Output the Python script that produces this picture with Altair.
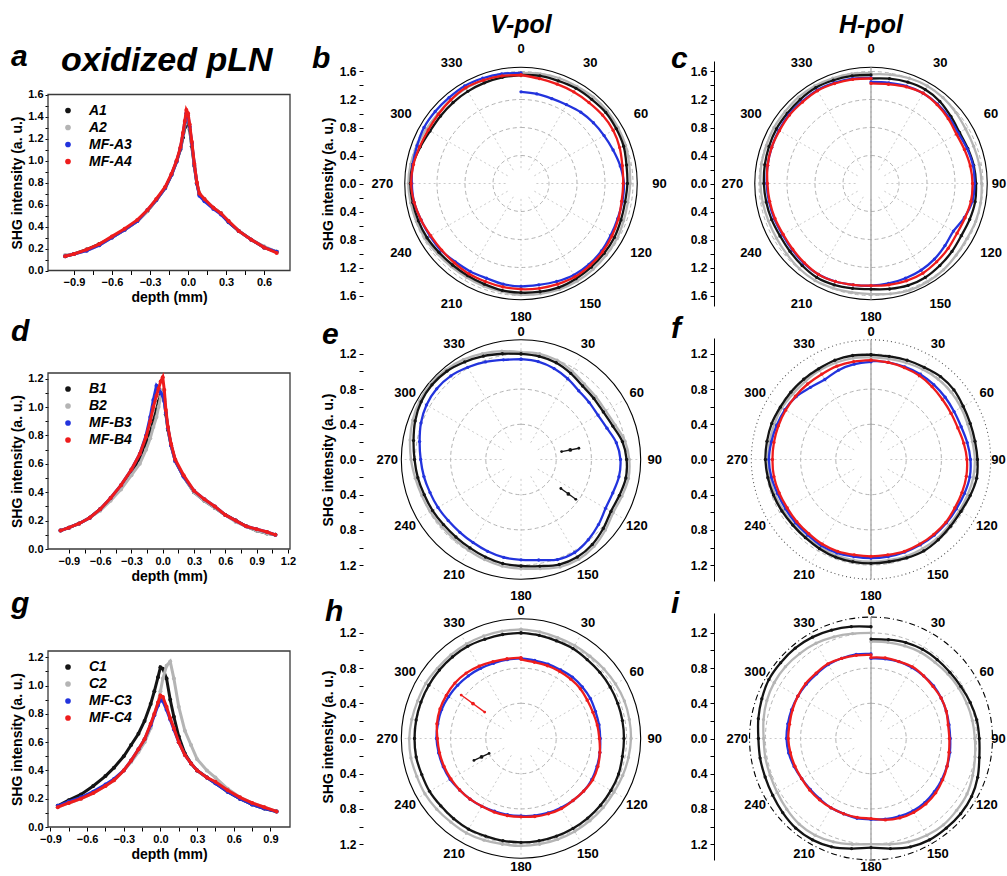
import math
import altair as alt
import pandas as pd

FONT = "Liberation Sans"
BLACK = "#141414"
GRAY = "#b4b4b4"
BLUE = "#2233dd"
RED = "#ee1c1c"
COLORS = [BLACK, GRAY, BLUE, RED]

# ---------------- depth profiles (a, d, g) ----------------
a_names = ["A1", "A2", "MF-A3", "MF-A4"]
a_depth = [-0.97, -0.9, -0.8, -0.7, -0.6, -0.5, -0.4, -0.32, -0.25, -0.18, -0.13, -0.09, -0.06, -0.04, -0.025,
           -0.013, 0.0, 0.013, 0.03, 0.05, 0.07, 0.09, 0.13, 0.2, 0.26, 0.32, 0.4, 0.5, 0.6, 0.7]
a_A1 = [0.13, 0.15, 0.19, 0.24, 0.30, 0.37, 0.45, 0.54, 0.64, 0.75, 0.87, 0.99, 1.10, 1.21, 1.30,
        1.35, 1.34, 1.28, 1.13, 0.95, 0.79, 0.69, 0.64, 0.57, 0.52, 0.44, 0.36, 0.28, 0.21, 0.17]
a_A2 = [0.14, 0.15, 0.18, 0.23, 0.30, 0.37, 0.45, 0.54, 0.64, 0.75, 0.87, 0.99, 1.11, 1.23, 1.33,
        1.40, 1.39, 1.30, 1.15, 0.96, 0.80, 0.70, 0.65, 0.57, 0.52, 0.45, 0.36, 0.28, 0.22, 0.17]
a_A3 = [0.13, 0.15, 0.18, 0.23, 0.30, 0.37, 0.45, 0.55, 0.64, 0.75, 0.87, 0.99, 1.11, 1.24, 1.35,
        1.43, 1.41, 1.31, 1.16, 0.96, 0.79, 0.68, 0.63, 0.56, 0.51, 0.44, 0.36, 0.28, 0.21, 0.17]
a_A4 = [0.13, 0.15, 0.19, 0.24, 0.31, 0.38, 0.46, 0.55, 0.65, 0.76, 0.88, 1.00, 1.12, 1.25, 1.36,
        1.46, 1.43, 1.33, 1.17, 0.97, 0.80, 0.70, 0.65, 0.57, 0.52, 0.45, 0.36, 0.28, 0.21, 0.16]

d_names = ["B1", "B2", "MF-B3", "MF-B4"]
d_depth = [-0.98, -0.9, -0.8, -0.7, -0.6, -0.5, -0.4, -0.3, -0.22, -0.16, -0.12, -0.09, -0.06, -0.04, -0.02,
           0.0, 0.015, 0.03, 0.05, 0.08, 0.12, 0.2, 0.3, 0.4, 0.5, 0.6, 0.7, 0.8, 0.9, 1.0, 1.08]
d_B1 = [0.13, 0.15, 0.18, 0.22, 0.28, 0.35, 0.44, 0.54, 0.64, 0.75, 0.82, 0.90, 0.98, 1.04, 1.09,
        1.10, 1.05, 0.95, 0.84, 0.73, 0.62, 0.51, 0.40, 0.34, 0.29, 0.24, 0.20, 0.16, 0.13, 0.11, 0.10]
d_B2 = [0.13, 0.15, 0.18, 0.22, 0.27, 0.34, 0.42, 0.52, 0.60, 0.70, 0.78, 0.86, 0.93, 1.00, 1.07,
        1.12, 1.06, 0.96, 0.85, 0.73, 0.62, 0.51, 0.40, 0.34, 0.29, 0.24, 0.19, 0.16, 0.13, 0.11, 0.10]
d_B3 = [0.13, 0.15, 0.18, 0.22, 0.28, 0.36, 0.45, 0.56, 0.67, 0.80, 0.93, 1.05, 1.15, 1.13, 1.10,
        1.08, 1.04, 0.96, 0.85, 0.73, 0.62, 0.51, 0.41, 0.35, 0.30, 0.24, 0.20, 0.16, 0.14, 0.12, 0.10]
d_B4 = [0.13, 0.15, 0.18, 0.22, 0.28, 0.36, 0.45, 0.56, 0.67, 0.79, 0.90, 1.00, 1.08, 1.13, 1.18,
        1.21, 1.12, 0.98, 0.86, 0.74, 0.63, 0.52, 0.41, 0.35, 0.30, 0.24, 0.20, 0.16, 0.14, 0.12, 0.10]

g_names = ["C1", "C2", "MF-C3", "MF-C4"]
g_depth = [-0.84, -0.75, -0.65, -0.55, -0.45, -0.38, -0.3, -0.24, -0.18, -0.13, -0.08, -0.05, -0.02, 0.0,
           0.02, 0.05, 0.08, 0.11, 0.15, 0.2, 0.25, 0.3, 0.38, 0.45, 0.55, 0.65, 0.75, 0.85, 0.95]
g_C1 = [0.15, 0.19, 0.23, 0.29, 0.36, 0.42, 0.50, 0.58, 0.66, 0.75, 0.87, 0.96, 1.06, 1.13,
        1.12, 1.05, 0.90, 0.78, 0.64, 0.52, 0.45, 0.40, 0.35, 0.31, 0.25, 0.20, 0.16, 0.13, 0.11]
g_C2 = [0.14, 0.17, 0.20, 0.24, 0.29, 0.33, 0.40, 0.46, 0.53, 0.60, 0.70, 0.80, 0.88, 0.96,
        1.05, 1.14, 1.17, 1.05, 0.85, 0.68, 0.58, 0.48, 0.40, 0.35, 0.27, 0.21, 0.17, 0.14, 0.11]
g_C3 = [0.15, 0.18, 0.21, 0.25, 0.30, 0.34, 0.40, 0.47, 0.55, 0.62, 0.72, 0.79, 0.86, 0.90,
        0.89, 0.83, 0.76, 0.69, 0.60, 0.51, 0.45, 0.40, 0.35, 0.31, 0.25, 0.20, 0.16, 0.13, 0.11]
g_C4 = [0.14, 0.17, 0.20, 0.24, 0.29, 0.33, 0.40, 0.47, 0.55, 0.62, 0.73, 0.80, 0.88, 0.93,
        0.92, 0.85, 0.77, 0.70, 0.60, 0.51, 0.45, 0.40, 0.35, 0.32, 0.26, 0.21, 0.17, 0.14, 0.11]

# ---------------- polar data (angle in degrees, radius in a.u.) ----------------
ANGLES = list(range(0, 361, 10))

b_gray = [1.58, 1.59, 1.60, 1.60, 1.61, 1.61, 1.60, 1.59, 1.57, 1.56, 1.55, 1.56, 1.58, 1.59, 1.60, 1.61, 1.61, 1.60, 1.59,
          1.57, 1.56, 1.55, 1.55, 1.56, 1.58, 1.59, 1.60, 1.61, 1.60, 1.58, 1.56, 1.55, 1.56, 1.57, 1.57, 1.58, 1.58]
b_black = [1.55, 1.56, 1.56, 1.57, 1.57, 1.58, 1.57, 1.56, 1.53, 1.52, 1.51, 1.52, 1.54, 1.55, 1.56, 1.57, 1.58, 1.57, 1.56,
           1.55, 1.53, 1.52, 1.52, 1.53, 1.55, 1.56, 1.57, 1.58, 1.57, 1.53, 1.50, 1.50, 1.51, 1.52, 1.53, 1.54, 1.55]
b_blue = [1.31, 1.30, 1.29, 1.30, 1.33, 1.35, 1.37, 1.40, 1.44, 1.47, 1.47, 1.47, 1.48, 1.50, 1.51, 1.51, 1.49, 1.47, 1.47,
          1.46, 1.44, 1.45, 1.46, 1.49, 1.50, 1.52, 1.55, 1.56, 1.57, 1.58, 1.60, 1.60, 1.60, 1.61, 1.60, 1.59, 1.58]
b_red = [1.55, 1.52, 1.51, 1.51, 1.51, 1.52, 1.52, 1.50, 1.47, 1.46, 1.46, 1.48, 1.50, 1.52, 1.53, 1.54, 1.53, 1.52, 1.51,
         1.50, 1.49, 1.49, 1.48, 1.48, 1.49, 1.52, 1.55, 1.57, 1.56, 1.54, 1.53, 1.54, 1.56, 1.58, 1.57, 1.56, 1.55]

c_gray = [1.56, 1.58, 1.60, 1.61, 1.60, 1.58, 1.56, 1.56, 1.57, 1.58, 1.59, 1.59, 1.58, 1.59, 1.61, 1.62, 1.62, 1.60, 1.58,
          1.58, 1.59, 1.60, 1.59, 1.57, 1.56, 1.56, 1.57, 1.58, 1.59, 1.59, 1.60, 1.60, 1.61, 1.61, 1.60, 1.59, 1.58]
c_black = [1.50, 1.52, 1.54, 1.55, 1.53, 1.49, 1.46, 1.47, 1.49, 1.50, 1.51, 1.50, 1.49, 1.51, 1.53, 1.55, 1.55, 1.53, 1.51,
           1.52, 1.54, 1.55, 1.53, 1.51, 1.50, 1.51, 1.52, 1.53, 1.54, 1.55, 1.56, 1.56, 1.57, 1.58, 1.57, 1.56, 1.55]
c_blue = [1.45, 1.46, 1.48, 1.49, 1.48, 1.46, 1.44, 1.46, 1.48, 1.48, 1.47, 1.42, 1.36, 1.38, 1.41, 1.43, 1.44, 1.45, 1.46,
          1.47, 1.49, 1.50, 1.49, 1.47, 1.46, 1.47, 1.48, 1.49, 1.50, 1.51, 1.52, 1.53, 1.53, 1.54, 1.53, 1.52, 1.51]
c_red = [1.43, 1.44, 1.47, 1.49, 1.47, 1.44, 1.41, 1.42, 1.44, 1.45, 1.45, 1.43, 1.42, 1.44, 1.46, 1.48, 1.48, 1.47, 1.46,
         1.47, 1.49, 1.50, 1.48, 1.46, 1.45, 1.46, 1.47, 1.48, 1.50, 1.51, 1.51, 1.52, 1.52, 1.53, 1.52, 1.51, 1.50]

e_gray = [1.22, 1.22, 1.20, 1.16, 1.12, 1.11, 1.11, 1.14, 1.20, 1.23, 1.24, 1.22, 1.21, 1.25, 1.29, 1.31, 1.30, 1.26, 1.24,
          1.23, 1.21, 1.19, 1.18, 1.18, 1.19, 1.20, 1.22, 1.25, 1.28, 1.31, 1.33, 1.34, 1.33, 1.31, 1.28, 1.25, 1.22]
e_black = [1.20, 1.19, 1.17, 1.13, 1.09, 1.08, 1.08, 1.11, 1.17, 1.20, 1.21, 1.19, 1.18, 1.22, 1.26, 1.28, 1.27, 1.23, 1.21,
           1.20, 1.18, 1.16, 1.15, 1.15, 1.16, 1.17, 1.19, 1.21, 1.24, 1.28, 1.31, 1.32, 1.31, 1.28, 1.25, 1.22, 1.20]
e_blue = [1.14, 1.13, 1.10, 1.06, 1.02, 1.01, 1.01, 1.04, 1.10, 1.13, 1.13, 1.11, 1.11, 1.15, 1.19, 1.22, 1.21, 1.16, 1.14,
          1.13, 1.11, 1.09, 1.08, 1.08, 1.09, 1.10, 1.12, 1.14, 1.17, 1.21, 1.24, 1.25, 1.24, 1.21, 1.18, 1.15, 1.14]

f_gray = [1.16, 1.16, 1.17, 1.18, 1.19, 1.19, 1.18, 1.17, 1.17, 1.18, 1.18, 1.17, 1.16, 1.16, 1.17, 1.17, 1.17, 1.16, 1.16,
          1.16, 1.16, 1.15, 1.15, 1.15, 1.15, 1.16, 1.17, 1.17, 1.17, 1.17, 1.17, 1.16, 1.16, 1.17, 1.17, 1.17, 1.16]
f_black = [1.19, 1.19, 1.20, 1.21, 1.23, 1.23, 1.21, 1.20, 1.20, 1.21, 1.22, 1.20, 1.18, 1.18, 1.19, 1.20, 1.19, 1.18, 1.18,
           1.18, 1.18, 1.17, 1.16, 1.16, 1.17, 1.18, 1.19, 1.20, 1.20, 1.20, 1.19, 1.19, 1.19, 1.19, 1.20, 1.20, 1.19]
f_blue = [1.12, 1.12, 1.12, 1.12, 1.11, 1.10, 1.09, 1.09, 1.11, 1.13, 1.14, 1.13, 1.12, 1.12, 1.12, 1.12, 1.12, 1.12, 1.12,
          1.12, 1.13, 1.13, 1.12, 1.12, 1.12, 1.13, 1.15, 1.16, 1.15, 1.14, 1.13, 1.11, 1.07, 1.05, 1.08, 1.10, 1.11]
f_red = [1.13, 1.12, 1.11, 1.10, 1.08, 1.06, 1.05, 1.05, 1.07, 1.09, 1.10, 1.10, 1.10, 1.11, 1.11, 1.11, 1.11, 1.10, 1.10,
         1.10, 1.11, 1.11, 1.10, 1.10, 1.10, 1.11, 1.12, 1.12, 1.12, 1.12, 1.12, 1.12, 1.12, 1.12, 1.13, 1.13, 1.13]

h_gray = [1.24, 1.23, 1.22, 1.22, 1.22, 1.23, 1.24, 1.25, 1.25, 1.25, 1.24, 1.23, 1.22, 1.22, 1.22, 1.22, 1.22, 1.22, 1.22,
          1.22, 1.23, 1.24, 1.24, 1.25, 1.26, 1.26, 1.27, 1.27, 1.26, 1.25, 1.25, 1.24, 1.24, 1.24, 1.24, 1.24, 1.24]
h_black = [1.20, 1.19, 1.18, 1.18, 1.17, 1.17, 1.17, 1.17, 1.17, 1.17, 1.17, 1.18, 1.18, 1.18, 1.18, 1.18, 1.18, 1.18, 1.18,
           1.18, 1.18, 1.19, 1.19, 1.19, 1.20, 1.20, 1.21, 1.21, 1.21, 1.21, 1.21, 1.21, 1.21, 1.21, 1.20, 1.20, 1.20]
h_blue = [0.91, 0.90, 0.90, 0.90, 0.91, 0.91, 0.91, 0.90, 0.90, 0.90, 0.91, 0.92, 0.93, 0.93, 0.92, 0.91, 0.90, 0.89, 0.88,
          0.88, 0.88, 0.89, 0.90, 0.91, 0.93, 0.94, 0.95, 0.96, 0.96, 0.96, 0.95, 0.94, 0.93, 0.92, 0.91, 0.91, 0.91]
h_red = [0.90, 0.88, 0.88, 0.88, 0.88, 0.88, 0.87, 0.87, 0.88, 0.89, 0.91, 0.93, 0.94, 0.93, 0.92, 0.92, 0.91, 0.90, 0.89,
         0.89, 0.89, 0.89, 0.90, 0.91, 0.92, 0.93, 0.94, 0.95, 0.97, 0.98, 0.98, 0.98, 0.97, 0.95, 0.93, 0.92, 0.92]

i_gray = [1.10, 1.11, 1.12, 1.13, 1.13, 1.14, 1.15, 1.16, 1.17, 1.18, 1.20, 1.23, 1.26, 1.27, 1.28, 1.27, 1.25, 1.22, 1.20,
          1.22, 1.25, 1.27, 1.27, 1.25, 1.23, 1.22, 1.22, 1.22, 1.24, 1.26, 1.27, 1.27, 1.26, 1.25, 1.23, 1.21, 1.20]
i_black = [1.13, 1.14, 1.16, 1.17, 1.17, 1.17, 1.18, 1.20, 1.22, 1.23, 1.25, 1.29, 1.32, 1.33, 1.33, 1.33, 1.31, 1.27, 1.24,
           1.27, 1.31, 1.33, 1.33, 1.31, 1.29, 1.28, 1.28, 1.28, 1.30, 1.32, 1.34, 1.34, 1.34, 1.33, 1.31, 1.29, 1.27]
i_blue = [0.91, 0.92, 0.93, 0.93, 0.93, 0.93, 0.92, 0.91, 0.90, 0.90, 0.91, 0.92, 0.93, 0.94, 0.95, 0.95, 0.94, 0.93, 0.92,
          0.92, 0.91, 0.91, 0.90, 0.90, 0.91, 0.93, 0.95, 0.96, 0.96, 0.96, 0.96, 0.96, 0.96, 0.97, 0.97, 0.97, 0.96]
i_red = [0.92, 0.93, 0.93, 0.94, 0.93, 0.92, 0.92, 0.91, 0.89, 0.89, 0.90, 0.92, 0.94, 0.96, 0.97, 0.97, 0.96, 0.94, 0.91,
         0.91, 0.91, 0.91, 0.91, 0.91, 0.91, 0.92, 0.93, 0.94, 0.94, 0.95, 0.96, 0.97, 0.97, 0.98, 0.97, 0.96, 0.95]

# error bars (angle deg, inner r, outer r, colour)
e_err_ang = [79, 126]
e_err_r1 = [0.47, 0.56]
e_err_r2 = [0.67, 0.77]
e_err_col = [BLACK, BLACK]
h_err_ang = [306, 245]
h_err_r1 = [0.51, 0.40]
h_err_r2 = [0.84, 0.59]
h_err_col = [RED, BLACK]

LABEL_ANGLES = list(range(0, 360, 30))


def text_layer(txt, dx, dy, size, align="left"):
    return alt.Chart(pd.DataFrame({"t": [txt]})).mark_text(
        font=FONT, fontSize=size, fontWeight="bold", fontStyle="italic",
        align=align, baseline="alphabetic", color="black"
    ).encode(text="t:N", x=alt.value(dx), y=alt.value(dy))


def anchor_layer(dx, dy):
    # invisible layout anchor
    return alt.Chart(pd.DataFrame({"v": [0]})).mark_point(size=1, opacity=0, filled=True).encode(
        x=alt.value(dx), y=alt.value(dy))


PLOT_H = 176


def profile_panel(letter, letter_dy, names, depth, series, xdom, ydom, xmax_tick, ymax_tick, top_pad=0.0,
                  extra=()):
    rows = []
    for name, vals in zip(names, series):
        for d, v in zip(depth, vals):
            rows.append({"depth": d, "val": v, "ser": name})
    df = pd.DataFrame(rows)
    H = PLOT_H + top_pad
    xt = [round(-0.9 + 0.15 * k, 2) for k in range(int(round((xmax_tick + 0.9) / 0.15)) + 1)]
    yt = [round(0.1 * k, 1) for k in range(int(round(ymax_tick * 10)) + 1)]
    xs = alt.Scale(domain=xdom, nice=False, zero=False)
    ys = alt.Scale(domain=ydom, nice=False, zero=False, range=[H, top_pad])
    xaxis = alt.Axis(title="depth (mm)", values=xt, domain=False,
                     labelExpr="(abs(round(datum.value*100)) % 30 == 0) ? format(datum.value, '.1f') : ''",
                     tickSize=4, labelFontSize=11, titleFontSize=14, labelPadding=2, titlePadding=3,
                     labelFlush=False)
    yaxis = alt.Axis(title="SHG intensity (a. u.)", values=yt, domain=False,
                     labelExpr="(round(datum.value*10) % 2 == 0) ? format(datum.value, '.1f') : ''",
                     tickSize=3, labelFontSize=11, titleFontSize=14, labelPadding=2, titlePadding=3,
                     labelFlush=False)
    x = alt.X("depth:Q", scale=xs, axis=xaxis)
    y = alt.Y("val:Q", scale=ys, axis=yaxis)
    color = alt.Color("ser:N", scale=alt.Scale(domain=names, range=COLORS),
                      legend=alt.Legend(title=None, orient="none", legendX=13, legendY=9 + top_pad,
                                        symbolType="circle", symbolSize=32, labelFont=FONT, labelFontSize=14,
                                        labelFontWeight="bold", labelFontStyle="italic", labelOffset=14,
                                        rowPadding=3, padding=0, labelColor="black"))
    layers = []
    frame = alt.Chart(pd.DataFrame({"v": [0]})).mark_rect(
        fillOpacity=0, stroke="#3a3a3a", strokeWidth=1.3
    ).encode(x=alt.XDatum(xdom[0], type="quantitative", scale=xs, axis=xaxis), x2=alt.X2Datum(xdom[1]),
             y=alt.YDatum(ydom[0], type="quantitative", scale=ys, axis=yaxis), y2=alt.Y2Datum(ydom[1]))
    layers.append(frame)
    for name, col in zip(names, COLORS):
        base = alt.Chart(df).transform_filter(alt.datum.ser == name)
        layers.append(base.mark_line(strokeWidth=3.0, color=col).encode(x=x, y=y, order="depth:Q"))
        layers.append(base.mark_circle(size=16, opacity=1).encode(x=x, y=y, color=color))
    layers.append(text_layer(letter, -37, letter_dy + top_pad, 30))
    layers.extend(extra)
    return alt.layer(*layers).properties(width=242, height=H)


def polar_panel(letter, letter_dx, letter_dy, s, left_px, right_px, below_px, above_px, yt_max,
                series, outer_r, grid_rs, lab_r, outer_dash, outer_color, vline, ytitle, show_domain,
                header=None, err=None, lab_over=None, extra=()):
    xs = alt.Scale(domain=[-left_px / s, right_px / s], nice=False, zero=False)
    ys = alt.Scale(domain=[-below_px / s, above_px / s], nice=False, zero=False)
    nt = int(round(yt_max / 0.2))
    yt = [round(0.2 * k, 1) for k in range(-nt, nt + 1)]
    axis_kw = dict(values=yt,
                   labelExpr="(abs(round(datum.value*10)) % 4 == 0) ? format(abs(datum.value), '.1f') : ''",
                   domain=show_domain, tickSize=4, labelFontSize=12, titleFontSize=14, labelPadding=3,
                   titlePadding=4, labelFlush=False)
    if ytitle:
        yaxis = alt.Axis(title="SHG intensity (a. u.)", **axis_kw)
    else:
        yaxis = alt.Axis(title=None, **axis_kw)
    rs = alt.Scale(type="linear", domain=[0, 1], range=[0, s])

    def X(f):
        return alt.X(f, type="quantitative", scale=xs, axis=None)

    def Y(f):
        return alt.Y(f, type="quantitative", scale=ys, axis=yaxis)

    X0 = alt.XDatum(0, type="quantitative", scale=xs, axis=None)
    Y0 = alt.YDatum(0, type="quantitative", scale=ys, axis=yaxis)

    layers = []
    for gr in grid_rs:
        layers.append(alt.Chart(pd.DataFrame({"r": [gr]})).mark_arc(
            theta=0, theta2=2 * math.pi, fillOpacity=0, stroke="#a0a0a0", strokeWidth=0.8, strokeDash=[4, 3]
        ).encode(x=X0, y=Y0, radius=alt.Radius("r:Q", scale=rs, stack=False)))
    spokes = alt.Chart(pd.DataFrame({"ang": LABEL_ANGLES})).transform_calculate(
        x1="0.22*sin(datum.ang*PI/180)", y1="0.22*cos(datum.ang*PI/180)",
        x2=f"{outer_r}*sin(datum.ang*PI/180)", y2=f"{outer_r}*cos(datum.ang*PI/180)"
    ).mark_rule(color="#b4b4b4", strokeWidth=0.7, strokeDash=[2, 3]).encode(
        x=X("x1"), y=Y("y1"), x2="x2:Q", y2="y2:Q")
    layers.append(spokes)
    okw = dict(theta=0, theta2=2 * math.pi, fillOpacity=0, stroke=outer_color, strokeWidth=1.1)
    if outer_dash:
        okw["strokeDash"] = outer_dash
    outer = alt.Chart(pd.DataFrame({"r": [outer_r]})).mark_arc(**okw).encode(
        x=X0, y=Y0, radius=alt.Radius("r:Q", scale=rs, stack=False))
    layers.append(outer)
    if vline:
        vl = alt.Chart(pd.DataFrame({"r": [outer_r]})).transform_calculate(nr="-datum.r").mark_rule(
            color="#9a9a9a", strokeWidth=1.2).encode(x=X0, y=Y("r"), y2="nr:Q")
        layers.append(vl)
    for vals, col in series:
        df = pd.DataFrame({"ang": ANGLES, "r": vals})
        base = alt.Chart(df).transform_calculate(
            px="datum.r*sin(datum.ang*PI/180)", py="datum.r*cos(datum.ang*PI/180)")
        layers.append(base.mark_line(color=col, strokeWidth=2.3, interpolate="cardinal").encode(
            x=X("px"), y=Y("py"), order="ang:Q"))
        layers.append(base.mark_circle(color=col, size=11, opacity=1).encode(x=X("px"), y=Y("py")))
    if err is not None:
        ang, r1, r2, cols = err
        edf = pd.DataFrame({"ang": ang, "r1": r1, "r2": r2, "col": cols})
        eb = alt.Chart(edf).transform_calculate(
            x1="datum.r1*sin(datum.ang*PI/180)", y1="datum.r1*cos(datum.ang*PI/180)",
            x2="datum.r2*sin(datum.ang*PI/180)", y2="datum.r2*cos(datum.ang*PI/180)",
            xm="(datum.r1+datum.r2)/2*sin(datum.ang*PI/180)", ym="(datum.r1+datum.r2)/2*cos(datum.ang*PI/180)")
        ccol = alt.Color("col:N", scale=None)
        layers.append(eb.mark_rule(strokeWidth=1.3).encode(x=X("x1"), y=Y("y1"), x2="x2:Q", y2="y2:Q", color=ccol))
        layers.append(eb.mark_circle(size=14, opacity=1).encode(x=X("xm"), y=Y("ym"), color=ccol))
        layers.append(eb.mark_circle(size=8, opacity=1).encode(x=X("x1"), y=Y("y1"), color=ccol))
        layers.append(eb.mark_circle(size=8, opacity=1).encode(x=X("x2"), y=Y("y2"), color=ccol))
    lab_over = lab_over or {}
    lr = [lab_over.get(a, lab_r) for a in LABEL_ANGLES]
    ldf = pd.DataFrame({"ang": LABEL_ANGLES, "lab": [str(a) for a in LABEL_ANGLES], "lr": lr})
    labels = alt.Chart(ldf).transform_calculate(
        lx="datum.lr*sin(datum.ang*PI/180)", ly="datum.lr*cos(datum.ang*PI/180)"
    ).mark_text(font=FONT, fontSize=13, fontWeight="bold", color="black", align="center",
                baseline="middle").encode(x=X("lx"), y=Y("ly"), text="lab:N")
    layers.append(labels)
    layers.append(text_layer(letter, letter_dx, letter_dy, 30))
    if header is not None:
        layers.append(text_layer(header, left_px, -28.5, 25, align="center"))
    layers.extend(extra)
    return alt.layer(*layers).properties(width=left_px + right_px, height=below_px + above_px)


# ---------------- panels ----------------
TOP_PAD = 33.5  # panel a plot starts this far below the polar row-1 plot top
pa = profile_panel("a", -29, a_names, a_depth, [a_A1, a_A2, a_A3, a_A4], [-1.105, 0.805], [0, 1.6], 0.6, 1.6,
                   top_pad=TOP_PAD,
                   extra=[text_layer("oxidized pLN", 13, -24 + TOP_PAD, 34), anchor_layer(-42, 100),
                          anchor_layer(256, 100)])
pdd = profile_panel("d", -32, d_names, d_depth, [d_B1, d_B2, d_B3, d_B4], [-1.10, 1.22], [0, 1.24], 1.2, 1.2)
pg = profile_panel("g", -38, g_names, g_depth, [g_C1, g_C2, g_C3, g_C4], [-0.92, 1.06], [0, 1.245], 0.9, 1.2)

S1, S2 = 70.0, 88.0
pb = polar_panel("b", -51, 6.5, S1, 158, 140, 122.5, 122.5, 1.6,
                 [(b_gray, GRAY), (b_black, BLACK), (b_blue, BLUE), (b_red, RED)],
                 1.66, [0.4, 0.8, 1.2, 1.6], 1.98, None, "black", False, True, False, header="V-pol",
                 lab_over={0: 1.92, 180: 1.9}, extra=[anchor_layer(-57, -56.5), anchor_layer(306, 0)])
pc = polar_panel("c", -43, 6.5, S1, 157, 131, 122.5, 122.5, 1.6,
                 [(c_gray, GRAY), (c_black, BLACK), (c_blue, BLUE), (c_red, RED)],
                 1.66, [0.4, 0.8, 1.2, 1.6], 1.98, None, "black", True, False, True, header="H-pol",
                 lab_over={0: 1.92, 90: 1.83, 180: 1.9}, extra=[anchor_layer(-43, -56.5)])
pe = polar_panel("e", -41, 5.5, S2, 158, 140, 121.5, 121.5, 1.2,
                 [(e_gray, GRAY), (e_black, BLACK), (e_blue, BLUE)],
                 1.36, [0.4, 0.8, 1.2], 1.52, None, "black", False, True, False,
                 err=(e_err_ang, e_err_r1, e_err_r2, e_err_col), lab_over={0: 1.45, 180: 1.55})
pf = polar_panel("f", -43, -0.5, S2, 157, 131, 121.5, 121.5, 1.2,
                 [(f_gray, GRAY), (f_black, BLACK), (f_blue, BLUE), (f_red, RED)],
                 1.36, [0.4, 0.8, 1.2], 1.52, [1, 3], "#555555", True, False, True,
                 lab_over={0: 1.45, 90: 1.45, 180: 1.55})
ph = polar_panel("h", -38, 7.5, S2, 158, 140, 121.5, 125.5, 1.2,
                 [(h_gray, GRAY), (h_black, BLACK), (h_blue, BLUE), (h_red, RED)],
                 1.36, [0.4, 0.8, 1.2], 1.52, None, "black", False, True, False,
                 err=(h_err_ang, h_err_r1, h_err_r2, h_err_col), lab_over={0: 1.45, 180: 1.46})
pi_ = polar_panel("i", -43, 0, S2, 157, 131, 121.5, 125.5, 1.2,
                  [(i_gray, GRAY), (i_black, BLACK), (i_blue, BLUE), (i_red, RED)],
                  1.38, [0.4, 0.8, 1.2], 1.52, [6, 3, 1, 3], "black", True, False, True,
                  lab_over={0: 1.45, 90: 1.45, 180: 1.46})

RES = dict(x="independent", y="independent", color="independent", radius="independent")

left_col = alt.vconcat(pa, pdd, pg, spacing=102, bounds="flush").resolve_scale(**RES).resolve_legend(color="independent")
v_col = alt.vconcat(pb, pe, ph, spacing=32, bounds="flush").resolve_scale(**RES)
h_col = alt.vconcat(pc, pf, pi_, spacing=32, bounds="flush").resolve_scale(**RES)

chart = alt.hconcat(left_col, v_col, h_col, spacing=0).resolve_scale(**RES).resolve_legend(color="independent")
chart = chart.properties(
    padding={"left": 5, "top": 4, "right": 0, "bottom": 0}
).configure_view(stroke=None).configure_axis(
    labelFont=FONT, titleFont=FONT, labelFontWeight="bold", titleFontWeight="bold",
    labelColor="black", titleColor="black", tickColor="black", domainColor="black", grid=False
).configure_legend(labelFont=FONT)

chart.save("out.html", embed_options={"renderer": "svg", "actions": False})
